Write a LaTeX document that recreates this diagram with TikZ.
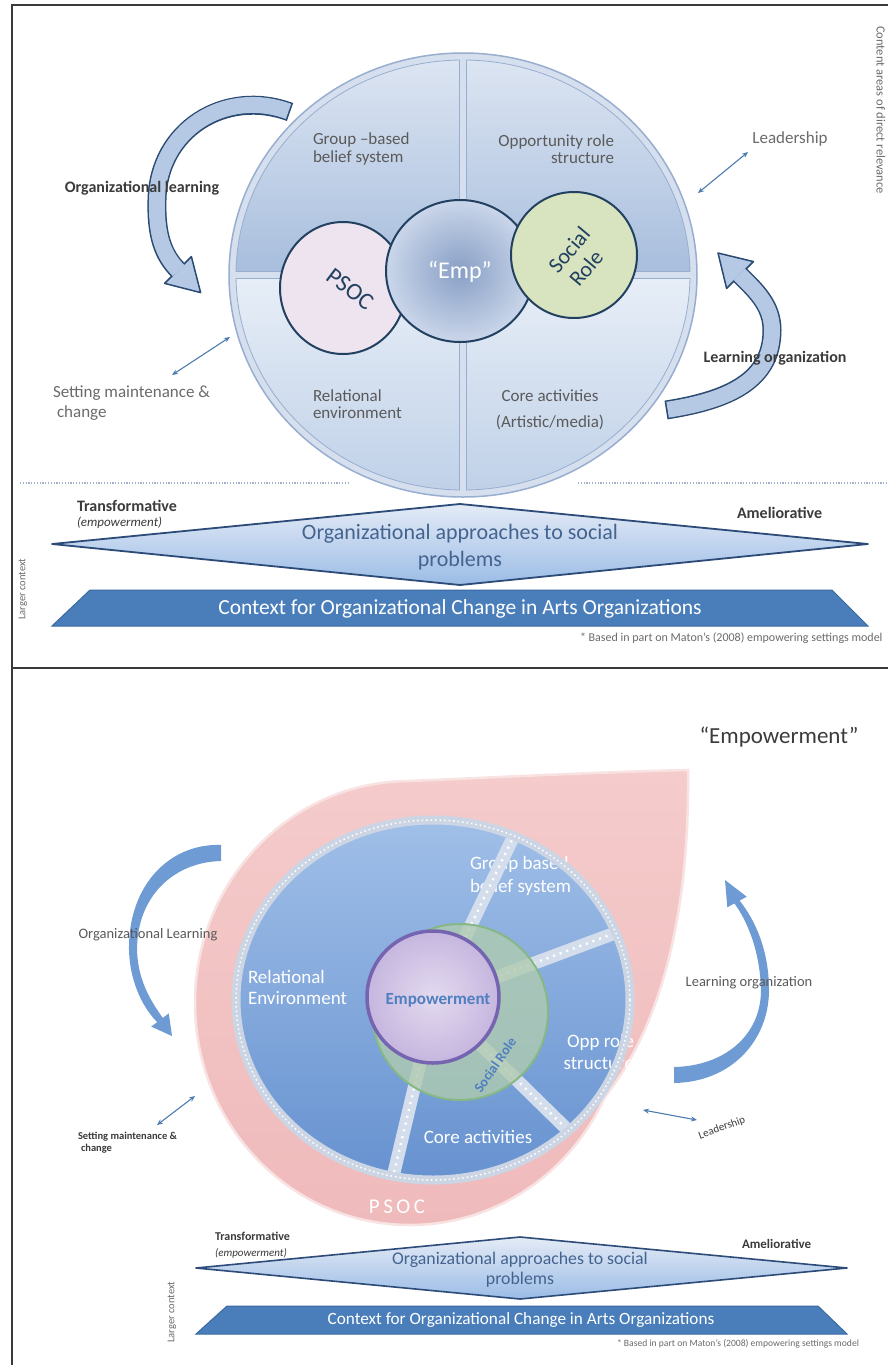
\documentclass[tikz,border=0pt]{standalone}
\usepackage{fontspec}
\setmainfont{Carlito}
\usetikzlibrary{arrows.meta}
\definecolor{framegray}{HTML}{3A3A3A}
\definecolor{txtgray}{HTML}{5A5A5A}
\definecolor{lblgray}{HTML}{6B6B6B}
\definecolor{darktxt}{HTML}{3B3B3B}
\definecolor{navy}{HTML}{22405F}
\definecolor{ringblue}{HTML}{98AED0}
\definecolor{qtopA}{HTML}{DCE5F2}
\definecolor{qtopB}{HTML}{A8BEDD}
\definecolor{qbotA}{HTML}{E7EEF7}
\definecolor{qbotB}{HTML}{C0D1E8}
\definecolor{outerfill}{HTML}{D5DFEE}
\definecolor{psocfill}{HTML}{EEE4EF}
\definecolor{socfill}{HTML}{D8E4BF}
\definecolor{empin}{HTML}{889FC5}
\definecolor{empout}{HTML}{CAD6EA}
\definecolor{arrowedge}{HTML}{2A4A72}
\definecolor{arrowfill}{HTML}{B5C8E4}
\definecolor{thinarrow}{HTML}{4E7CAE}
\definecolor{dotgray}{HTML}{A3B1C6}
\definecolor{diamA}{HTML}{E4EBF6}
\definecolor{diamB}{HTML}{9BBCE6}
\definecolor{diamedge}{HTML}{2C4B78}
\definecolor{diamtxt}{HTML}{44648F}
\definecolor{trapfill}{HTML}{4A7EBB}
\definecolor{trapedge}{HTML}{3A6AA0}
\definecolor{pinkA}{HTML}{F5CBCB}
\definecolor{pinkB}{HTML}{EFBABB}
\definecolor{pinkedge}{HTML}{F8E2E2}
\definecolor{innerA}{HTML}{A0BFE8}
\definecolor{innerB}{HTML}{6792D0}
\definecolor{ringgray}{HTML}{CCD5E4}
\definecolor{spokecol}{HTML}{D4DDEB}
\definecolor{greenfill}{HTML}{AFCBB0}
\definecolor{greenedge}{HTML}{86B886}
\definecolor{purpA}{HTML}{E3DAEF}
\definecolor{purpB}{HTML}{C6B6DF}
\definecolor{purpedge}{HTML}{7564B0}
\definecolor{empblue}{HTML}{4F7FC0}
\definecolor{softarrow}{HTML}{6E9BD3}
\begin{document}
\begin{tikzpicture}[x=1pt,y=-1pt,
  lbl/.style={inner sep=0pt,outer sep=0pt},
  dblarrow/.style={draw=thinarrow,line width=1.1pt,{Stealth[length=6pt,width=5pt]}-{Stealth[length=6pt,width=5pt]}},
  dotline/.style={dotgray,line width=1.2pt,dash pattern=on 1.2pt off 1.6pt},
  spoke/.style={spokecol,line width=13pt},
  spokedots/.style={white,line width=2.5pt,dash pattern=on 2pt off 5pt}
]
\useasboundingbox (0,0) rectangle (888,1365);
\fill[white] (0,0) rectangle (888,1365);

% ---------- frames
\draw[framegray,line width=1.8pt] (12,1365) -- (12,5) -- (888,5);
\draw[framegray,line width=1.8pt] (12,668) -- (888,668);

% ================= TOP PANEL =================
\draw[dotline] (20,483) -- (350,483);
\draw[dotline] (578,483) -- (888,483);

% big circle
\fill[outerfill] (463,275) ellipse [x radius=234, y radius=222];
\draw[ringblue,line width=1.5pt] (463,275) ellipse [x radius=234, y radius=222];
\begin{scope}[shift={(463,275)}]
  \shadedraw[top color=qtopA,bottom color=qtopB,draw=ringblue,line width=0.8pt]
    (-3.5,-3.5) -- (-90.883:227 and 215) arc[start angle=-90.883,end angle=-179.067,x radius=227,y radius=215] -- cycle;
  \shadedraw[top color=qtopA,bottom color=qtopB,draw=ringblue,line width=0.8pt]
    (3.5,-3.5) -- (-89.117:227 and 215) arc[start angle=-89.117,end angle=-0.933,x radius=227,y radius=215] -- cycle;
  \shadedraw[top color=qbotA,bottom color=qbotB,draw=ringblue,line width=0.8pt]
    (3.5,3.5) -- (0.933:227 and 215) arc[start angle=0.933,end angle=89.117,x radius=227,y radius=215] -- cycle;
  \shadedraw[top color=qbotA,bottom color=qbotB,draw=ringblue,line width=0.8pt]
    (-3.5,3.5) -- (90.883:227 and 215) arc[start angle=90.883,end angle=179.067,x radius=227,y radius=215] -- cycle;
\end{scope}

% quadrant texts
\node[lbl,anchor=west,align=left,text=txtgray,font=\fontsize{17}{17.5}\selectfont] (gbb) at (313,149) {Group --based\\belief system};
\node[lbl,anchor=east,align=right,text=txtgray,font=\fontsize{17}{17.5}\selectfont] (ors) at (614,149) {Opportunity role\\structure};
\node[lbl,anchor=west,align=left,text=txtgray,font=\fontsize{17}{17.5}\selectfont] (rel) at (313,404) {Relational\\environment};
\node[lbl,align=center,text=txtgray,font=\fontsize{17}{26}\selectfont] (core) at (550,410) {Core activities\\(Artistic/media)};

% inner circles
\filldraw[fill=psocfill,draw=navy,line width=2pt] (343,288) ellipse [x radius=63, y radius=66];
\shadedraw[inner color=empin,outer color=empout,draw=navy,line width=2pt] (460,271) ellipse [x radius=74, y radius=71];
\filldraw[fill=socfill,draw=navy,line width=2pt] (574,255) ellipse [x radius=63, y radius=63];

\node[lbl,rotate=-37,text=navy,font=\fontsize{24}{24}\selectfont] (psoc) at (350,289) {PSOC};
\node[lbl,text=white,font=\fontsize{24}{24}\selectfont] (emp) at (460,272) {“Emp”};
\node[lbl,rotate=50,text=navy,font=\fontsize{22}{22}\selectfont] (socA) at (569,250) {Social};
\node[lbl,rotate=50,text=navy,font=\fontsize{22}{22}\selectfont] (socB) at (586,268) {Role};

% block arrow left (Organizational learning)
\draw[arrowedge,line width=19pt] (290,112) .. controls (225,88) and (158,130) .. (157,200) .. controls (156,235) and (163,255) .. (178,270);
\filldraw[fill=arrowfill,draw=arrowedge,line width=1.5pt,line join=round] (191.4,256.6) -- (200.6,292.6) -- (164.6,283.4) -- cycle;
\draw[arrowfill,line width=16pt,shorten <=1.6pt,shorten >=-1pt] (290,112) .. controls (225,88) and (158,130) .. (157,200) .. controls (156,235) and (163,255) .. (178,270);

% block arrow right (Learning organization)
\draw[arrowedge,line width=19pt] (666,410) .. controls (730,400) and (772,380) .. (772,330) .. controls (772,305) and (755,290) .. (740,275);
\filldraw[fill=arrowfill,draw=arrowedge,line width=1.5pt,line join=round] (753.4,261.6) -- (718,253) -- (726.6,288.4) -- cycle;
\draw[arrowfill,line width=16pt,shorten <=1.6pt,shorten >=-1pt] (666,410) .. controls (730,400) and (772,380) .. (772,330) .. controls (772,305) and (755,290) .. (740,275);

% outside labels
\node[lbl,text=darktxt,font=\bfseries\fontsize{16}{16}\selectfont] (olearn) at (142,188) {Organizational learning};
\node[lbl,text=darktxt,font=\bfseries\fontsize{16}{16}\selectfont] (lorg) at (775,358) {Learning organization};
\node[lbl,text=lblgray,font=\fontsize{17}{17}\selectfont] (lead) at (790,139) {Leadership};
\node[lbl,anchor=west,align=left,text=lblgray,font=\fontsize{17}{20}\selectfont] (setm) at (53,403) {Setting maintenance \&\\\hspace*{4pt}change};
\node[lbl,rotate=-90,text=lblgray,font=\fontsize{12.5}{12.5}\selectfont] (content) at (881,110) {Content areas of direct relevance};

\coordinate (leadA) at (698,193); \coordinate (leadB) at (748,152);
\draw[dblarrow] (leadA) -- (leadB);
\coordinate (setA) at (172,375); \coordinate (setB) at (230,337);
\draw[dblarrow] (setA) -- (setB);

% diamond
\coordinate (dL) at (52,544); \coordinate (dT) at (460,504);
\coordinate (dR) at (868,544); \coordinate (dB) at (460,585);
\shadedraw[top color=diamA,bottom color=diamB,draw=diamedge,line width=1.8pt,line join=round] (dL) -- (dT) -- (dR) -- (dB) -- cycle;
\node[lbl,align=center,text=diamtxt,font=\fontsize{22}{27}\selectfont] (oap) at (460,547) {Organizational approaches to social\\problems};

% trapezoid
\filldraw[fill=trapfill,draw=trapedge,line width=1pt] (90,590) -- (832,590) -- (868,626) -- (52,626) -- cycle;
\node[lbl,text=white,font=\fontsize{21.5}{21.5}\selectfont] (ctx) at (460,609) {Context for Organizational Change in Arts Organizations};

\node[lbl,anchor=west,text=darktxt,font=\bfseries\fontsize{16}{16}\selectfont] (trans) at (77,506) {Transformative};
\node[lbl,anchor=west,text=darktxt,font=\itshape\fontsize{13}{13}\selectfont] (empw) at (77,523) {(empowerment)};
\node[lbl,anchor=west,text=darktxt,font=\bfseries\fontsize{16}{16}\selectfont] (amel) at (737,513) {Ameliorative};
\node[lbl,rotate=90,text=lblgray,font=\fontsize{10.5}{10.5}\selectfont] (larger) at (23,589) {Larger context};
\node[lbl,anchor=west,text=lblgray,font=\fontsize{12}{12}\selectfont] (foot) at (580,638) {* Based in part on Maton’s (2008) empowering settings model};

% ================= BOTTOM PANEL =================
\node[lbl,text=darktxt,font=\fontsize{23}{23}\selectfont] (empq) at (779,737) {“Empowerment”};

% teardrop
\shadedraw[top color=pinkA,bottom color=pinkB,draw=pinkedge,line width=2.5pt]
  (688,770) .. controls (600,772) and (480,778) .. (410,781)
  arc[start angle=-90,end angle=-335,x radius=215,y radius=222]
  .. controls (650,1040) and (690,940) .. (688,770) -- cycle;

% inner blue disc
\shade[top color=innerA,bottom color=innerB] (433,1000) ellipse [x radius=197, y radius=180];

% white texts (under spokes/ring)
\node[lbl,anchor=west,align=left,text=white,font=\fontsize{19}{21}\selectfont] (rel2) at (248,987) {Relational\\Environment};
\node[lbl,anchor=west,align=left,text=white,font=\fontsize{19}{23}\selectfont] (gbb2) at (470,876) {Group based\\belief system};
\node[lbl,anchor=east,align=right,text=white,font=\fontsize{19}{22}\selectfont] (ors2) at (634,1052) {Opp role\\structure};
\node[lbl,text=white,font=\fontsize{19}{19}\selectfont] (core2) at (478,1137) {Core activities};

% spokes
\coordinate (cen) at (435,1000);
\coordinate (s1) at (513.8,836); \coordinate (s2) at (615.7,932.8);
\coordinate (s3) at (568.5,1130.7); \coordinate (s4) at (393.1,1176.3);
\foreach \s in {s1,s2,s3,s4}{
  \draw[spoke] (cen) -- (\s);
  \draw[spokedots] (cen) -- (\s);
}
% ring
\draw[ringgray,line width=9pt] (433,1000) ellipse [x radius=197, y radius=180];
\draw[white,line width=1.5pt,dash pattern=on 1.5pt off 3pt] (433,1000) ellipse [x radius=197, y radius=180];

% green & purple circles
\filldraw[fill=greenfill,fill opacity=0.8,draw=greenedge,line width=2pt] (460,1012) ellipse [x radius=88, y radius=88];
\shadedraw[inner color=purpA,outer color=purpB,draw=purpedge,line width=3.5pt] (433,997) ellipse [x radius=66, y radius=66];
\node[lbl,text=empblue,font=\bfseries\fontsize{17}{17}\selectfont] (empw2) at (438,1000) {Empowerment};
\node[lbl,rotate=55,text=empblue,font=\bfseries\fontsize{14}{14}\selectfont] (soc2) at (495,1065) {Social Role};
\node[lbl,text=white,font=\fontsize{21}{21}\selectfont] (psoc2) at (397,1207) {P\,S\,O\,C};

% soft arrows
\fill[softarrow] (221,845) .. controls (170,843) and (128,885) .. (129,950)
  .. controls (130,985) and (145,1010) .. (157.2,1022.1) -- (151.2,1026.6) -- (172,1036) -- (168.8,1013.4) -- (162.8,1017.9)
  .. controls (150,1000) and (138,980) .. (137,950) .. controls (137,895) and (175,862) .. (221,861) -- cycle;
\fill[softarrow] (674,1083) .. controls (732,1082) and (769,1040) .. (769,990)
  .. controls (769,950) and (755,920) .. (739.6,900.6) -- (746.7,896.7) -- (725,880) -- (727.3,907.3) -- (734.4,903.4)
  .. controls (748,922) and (760,952) .. (761,990) .. controls (761,1035) and (725,1066) .. (674,1067) -- cycle;

\node[lbl,text=txtgray,font=\fontsize{14.5}{14.5}\selectfont] (olearn2) at (148,935) {Organizational Learning};
\node[lbl,text=txtgray,font=\fontsize{14.5}{14.5}\selectfont] (lorg2) at (749,983) {Learning organization};
\node[lbl,anchor=west,align=left,text=darktxt,font=\bfseries\fontsize{10.5}{12}\selectfont] (setm2) at (78,1143) {Setting maintenance \&\\\hspace*{3pt}change};
\node[lbl,rotate=20,text=darktxt,font=\fontsize{11}{11}\selectfont] (lead2) at (722,1128) {Leadership};

\coordinate (set2A) at (157,1125); \coordinate (set2B) at (195,1096);
\draw[dblarrow] (set2A) -- (set2B);
\coordinate (lead2A) at (643,1110); \coordinate (lead2B) at (697,1120);
\draw[dblarrow] (lead2A) -- (lead2B);

% bottom diamond
\coordinate (eL) at (196,1268); \coordinate (eT) at (520,1237);
\coordinate (eR) at (847,1268); \coordinate (eB) at (520,1299);
\shadedraw[top color=diamA,bottom color=diamB,draw=diamedge,line width=1.6pt,line join=round] (eL) -- (eT) -- (eR) -- (eB) -- cycle;
\node[lbl,align=center,text=diamtxt,font=\fontsize{17.8}{20}\selectfont] (oap2) at (520,1270) {Organizational approaches to social\\problems};

% bottom trapezoid
\filldraw[fill=trapfill,draw=trapedge,line width=1pt] (227,1306) -- (818,1306) -- (847,1334) -- (196,1334) -- cycle;
\node[lbl,text=white,font=\fontsize{17.2}{17.2}\selectfont] (ctx2) at (521,1320) {Context for Organizational Change in Arts Organizations};

\node[lbl,anchor=west,text=darktxt,font=\bfseries\fontsize{12}{12}\selectfont] (trans2) at (215,1236) {Transformative};
\node[lbl,anchor=west,text=darktxt,font=\itshape\fontsize{11}{11}\selectfont] (empw3) at (215,1253) {(empowerment)};
\node[lbl,anchor=west,text=darktxt,font=\bfseries\fontsize{13}{13}\selectfont] (amel2) at (742,1244) {Ameliorative};
\node[lbl,rotate=90,text=lblgray,font=\fontsize{10.5}{10.5}\selectfont] (larger2) at (172,1312) {Larger context};
\node[lbl,anchor=west,text=lblgray,font=\fontsize{9.6}{9.6}\selectfont] (foot2) at (617,1344) {* Based in part on Maton’s (2008) empowering settings model};
\end{tikzpicture}
\end{document}
